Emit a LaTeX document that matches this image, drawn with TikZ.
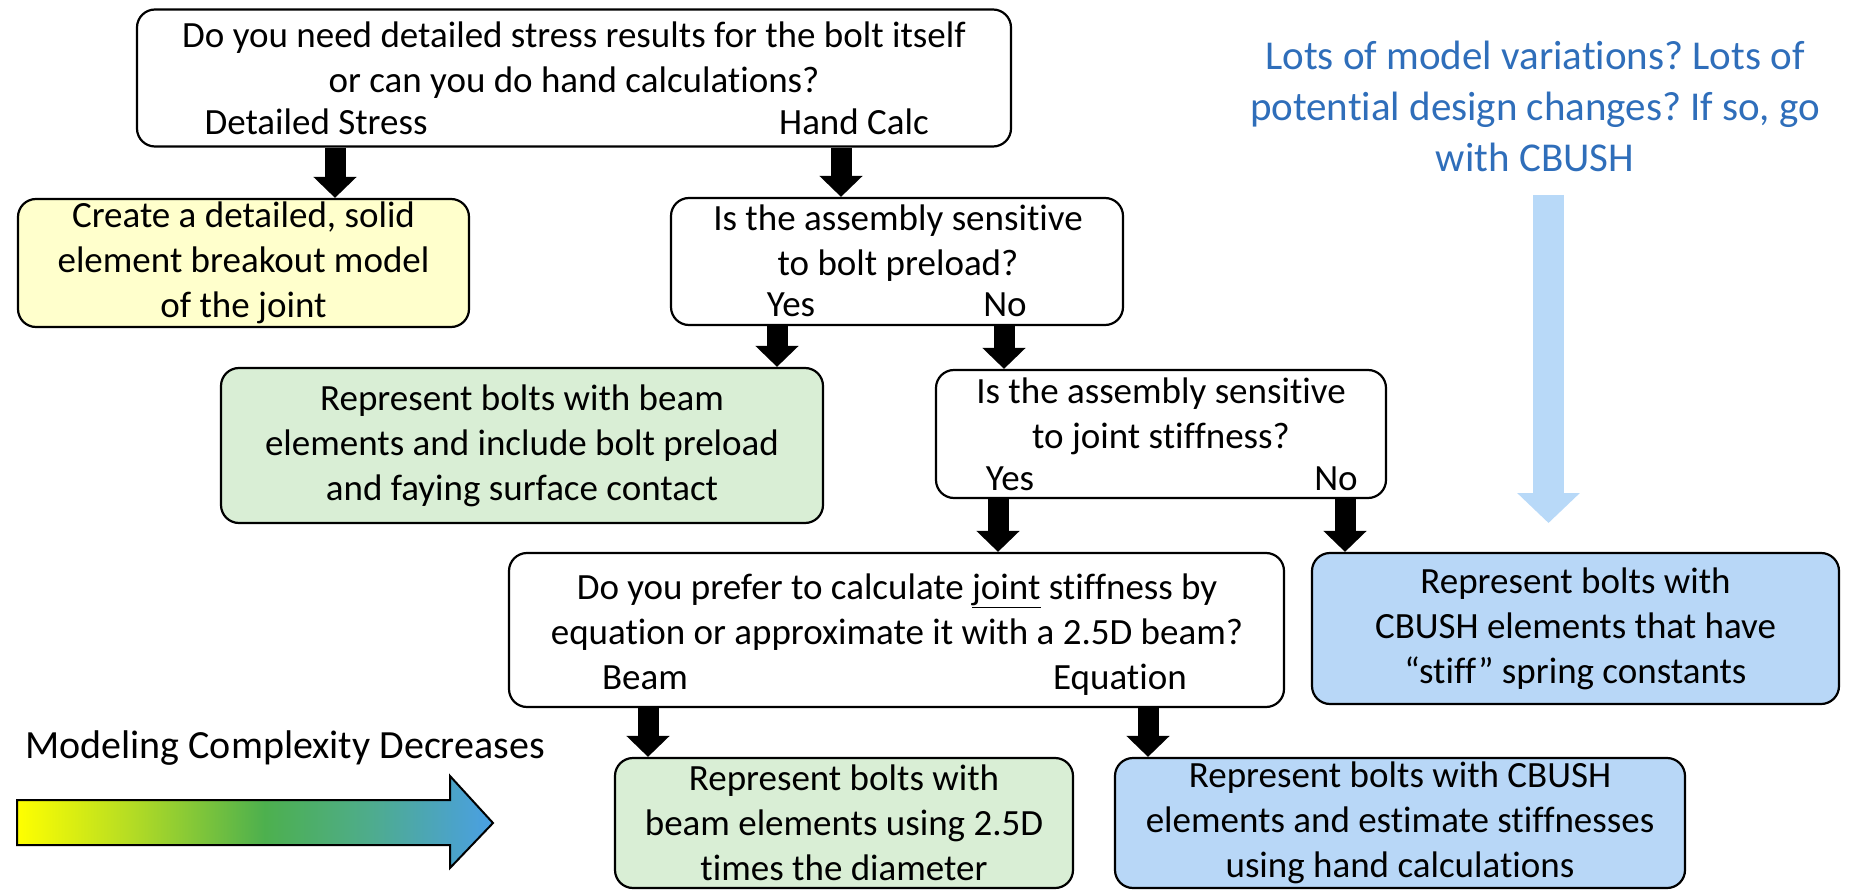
\documentclass[tikz,border=0pt]{standalone}
\usepackage{fontspec}
\setmainfont[Ligatures=NoCommon]{Carlito}
\usetikzlibrary{arrows.meta,calc}
\definecolor{yelfill}{HTML}{FFFFCC}
\definecolor{grnfill}{HTML}{D9EED5}
\definecolor{blufill}{HTML}{B8D7F7}
\definecolor{notecol}{HTML}{2F6EBA}
\definecolor{lightarr}{HTML}{B8D9F8}
\definecolor{gyel}{HTML}{FFFF00}
\definecolor{gyg}{HTML}{B4DC24}
\definecolor{ggrn}{HTML}{4DB04E}
\definecolor{gteal}{HTML}{4EAC8C}
\definecolor{gblu}{HTML}{4A9FE4}
\pgfdeclarehorizontalshading{cxgrad}{100bp}{color(0bp)=(gyel); color(25bp)=(gyel); color(37bp)=(gyg); color(51bp)=(ggrn); color(62bp)=(gteal); color(75bp)=(gblu); color(100bp)=(gblu)}
\newcommand{\mainfs}{\fontsize{37}{45}\selectfont}
\frenchspacing
\begin{document}
\begin{tikzpicture}[x=1pt,y=-1pt,
  boxshape/.style={draw, line width=2.2pt, rounded corners=18pt, inner sep=0pt,
    align=center, font=\mainfs},
  qtext/.style={inner sep=0pt, align=center, font=\mainfs},
  lbl/.style={inner sep=0pt, font=\mainfs, text height=26pt, text depth=8pt},
  blk/.style={line width=21pt, -{Triangle[width=42pt,length=21pt]}}
]
\useasboundingbox (0,0) rectangle (1852,890);

% question boxes
\node[boxshape, minimum width=874pt, minimum height=137pt] (q1) at (574,78) {};
\node[qtext] (q1t) at (574,60) {Do you need detailed stress results for the bolt itself\\or can you do hand calculations?};
\node[lbl] (q1a) at (316,126) {Detailed Stress};
\node[lbl] (q1b) at (854,126) {Hand Calc};

\node[boxshape, minimum width=452pt, minimum height=127pt] (q2) at (897,261.5) {};
\node[qtext] (q2t) at (898,243) {Is the assembly sensitive\\to bolt preload?};
\node[lbl] (q2a) at (791,308) {Yes};
\node[lbl] (q2b) at (1005,308) {No};

\node[boxshape, minimum width=450pt, minimum height=128pt] (q3) at (1161,434) {};
\node[qtext] (q3t) at (1161,416) {Is the assembly sensitive\\to joint stiffness?};
\node[lbl] (q3a) at (1010,481) {Yes};
\node[lbl] (q3b) at (1336,481) {No};

\node[boxshape, minimum width=775pt, minimum height=154pt] (q4) at (896.5,630) {};
\node[qtext] (q4t) at (897,612) {Do you prefer to calculate \underline{joint} stiffness by\\equation or approximate it with a 2.5D beam?};
\node[lbl] (q4a) at (645,680) {Beam};
\node[lbl] (q4b) at (1120,680) {Equation};

% result boxes
\node[boxshape, fill=yelfill, minimum width=451pt, minimum height=128pt] (r1) at (243.5,263)
  {Create a detailed, solid\\element breakout model\\of the joint};
\node[boxshape, fill=grnfill, minimum width=602pt, minimum height=155pt] (r2) at (522,445.5)
  {Represent bolts with beam\\elements and include bolt preload\\and faying surface contact};
\node[boxshape, fill=blufill, minimum width=527pt, minimum height=151pt] (r3) at (1575.5,628.5)
  {Represent bolts with\\CBUSH elements that have\\“stiff” spring constants};
\node[boxshape, fill=grnfill, minimum width=458pt, minimum height=130pt] (r4) at (844,823)
  {Represent bolts with\\beam elements using 2.5D\\times the diameter};
\node[boxshape, fill=blufill, minimum width=570pt, minimum height=130pt] (r5) at (1400,823)
  {Represent bolts with CBUSH\\elements and estimate stiffnesses\\using hand calculations};

% black block arrows
\draw[blk] (335,0 |- q1.south) -- (335,0 |- r1.north);
\draw[blk] (841,0 |- q1.south) -- (841,0 |- q2.north);
\draw[blk] (777,0 |- q2.south) -- (777,0 |- r2.north);
\draw[blk] (1004,0 |- q2.south) -- (1004,0 |- q3.north);
\draw[blk] (998,0 |- q3.south) -- (998,0 |- q4.north);
\draw[blk] (1345,0 |- q3.south) -- (1345,0 |- r3.north);
\draw[blk] (648,0 |- q4.south) -- (648,0 |- r4.north);
\draw[blk] (1148,0 |- q4.south) -- (1148,0 |- r5.north);

% note and light arrow
\node[inner sep=0pt, align=center, text=notecol, font=\fontsize{41}{51}\selectfont] (note) at (1535,106)
  {Lots of model variations? Lots of\\potential design changes? If so, go\\with CBUSH};
\coordinate (ltip) at (1548.5,523);
\draw[lightarr, line width=31pt, -{Triangle[width=61pt,length=30pt]}] (1548.5,195) -- (ltip);

% modeling complexity
\node[inner sep=0pt, font=\fontsize{40}{48}\selectfont] (mcd) at (285,748) {Modeling Complexity Decreases};
\shadedraw[shading=cxgrad, draw=black, line width=2pt]
  (17,800) -- (450,800) -- (450,776) -- (493,823) -- (450,868) -- (450,845) -- (17,845) -- cycle;
\end{tikzpicture}
\end{document}
